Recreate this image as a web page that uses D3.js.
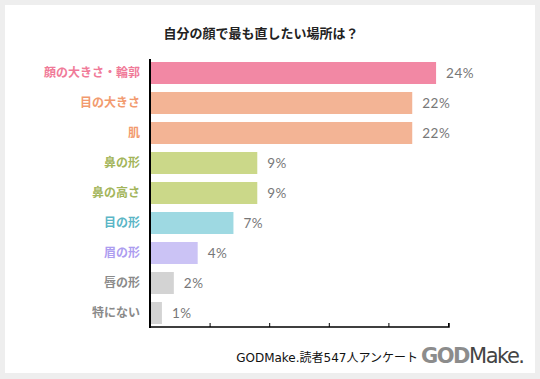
<!DOCTYPE html>
<html>
<head>
<meta charset="utf-8">
<script src="https://cdn.jsdelivr.net/npm/d3@7"></script>
<style>
body { margin: 0; background: #eeeeee; }
svg { display: block; }
</style>
</head>
<body>
<div class="chart"></div>
<script>
// survey data
var categories = ["顔の大きさ・輪郭", "目の大きさ", "肌", "鼻の形", "鼻の高さ", "目の形", "眉の形", "唇の形", "特にない"];
var values = [24, 22, 22, 9, 9, 7, 4, 2, 1];
var barColors = ["#f288a4", "#f3b495", "#f3b495", "#cbd889", "#cbd889", "#9ed9e2", "#cbc3f5", "#d3d3d3", "#d3d3d3"];
var labelColors = ["#f07a98", "#f29a6e", "#f29a6e", "#a3b55a", "#a3b55a", "#5bb6c6", "#ad9df0", "#8a8a8a", "#8a8a8a"];
var tickValues = [0, 5, 10, 15, 20, 25];

var W = 540, H = 379;
var svg = d3.select(".chart").append("svg")
	.attr("width", W)
	.attr("height", H);

svg.append("rect").attr("x", 5).attr("y", 5).attr("width", 530).attr("height", 368).attr("fill", "#fff");

var x = d3.scaleLinear().domain([0, 25]).range([150, 448]);
var y = d3.scaleBand().domain(categories).range([58, 328]).paddingInner(8 / 30).paddingOuter(4 / 30);

// title
svg.append("text")
	.attr("x", 261).attr("y", 38)
	.attr("text-anchor", "middle")
	.attr("font-family", "'Noto Sans CJK JP'")
	.attr("font-size", 13)
	.attr("font-weight", "bold")
	.attr("fill", "#222")
	.text("自分の顔で最も直したい場所は？");

// bars
svg.selectAll("rect.bar").data(values).enter().append("rect")
	.attr("class", "bar")
	.attr("x", x(0) + 1)
	.attr("y", function(d, i) { return y(categories[i]); })
	.attr("width", function(d) { return x(d) - x(0) - 1; })
	.attr("height", y.bandwidth())
	.attr("fill", function(d, i) { return barColors[i]; });

// value labels
svg.selectAll("text.val").data(values).enter().append("text")
	.attr("class", "val")
	.attr("x", function(d) { return x(d) + 10; })
	.attr("y", function(d, i) { return y(categories[i]) + y.bandwidth() / 2; })
	.attr("dy", "0.35em")
	.attr("font-family", "Lato")
	.attr("font-size", 13.5)
	.attr("letter-spacing", 0.5)
	.attr("fill", "#777")
	.text(function(d) { return d + "%"; });

// category labels
svg.selectAll("text.cat").data(categories).enter().append("text")
	.attr("class", "cat")
	.attr("x", 140)
	.attr("y", function(d) { return y(d) + y.bandwidth() / 2; })
	.attr("dy", "0.35em")
	.attr("text-anchor", "end")
	.attr("font-family", "'Noto Sans CJK JP'")
	.attr("font-size", 12)
	.attr("font-weight", "bold")
	.attr("fill", function(d, i) { return labelColors[i]; })
	.text(function(d) { return d; });

// x axis, ticks pointing up
var xAxis = svg.append("g")
	.attr("transform", "translate(0,327)")
	.call(d3.axisTop(x).tickValues(tickValues).tickSize(4).tickFormat(""));
xAxis.select(".domain").attr("d", "M150,0H449V-4").attr("stroke", "#000").attr("stroke-width", 1.5);
xAxis.selectAll(".tick line").attr("stroke", "#000");

// y axis line
svg.append("g")
	.attr("transform", "translate(150,0)")
	.call(d3.axisLeft(y).tickSize(0).tickFormat(""))
	.select(".domain").attr("d", "M0,59V328").attr("stroke", "#000").attr("stroke-width", 2);

// footer
svg.append("text")
	.attr("x", 418).attr("y", 362)
	.attr("text-anchor", "end")
	.attr("font-family", "'DejaVu Sans', 'Noto Sans CJK JP'")
	.attr("font-size", 12)
	.attr("fill", "#111")
	.text("GODMake.読者547人アンケート");

var logo = svg.append("text")
	.attr("x", 421).attr("y", 363)
	.attr("font-family", "'DejaVu Sans'")
	.attr("font-size", 21)
	.attr("letter-spacing", -1.5);
logo.append("tspan").attr("fill", "#8c8c8c").attr("font-weight", "bold").text("GOD");
logo.append("tspan").attr("fill", "#444").text("Make.");
</script>
</body>
</html>
